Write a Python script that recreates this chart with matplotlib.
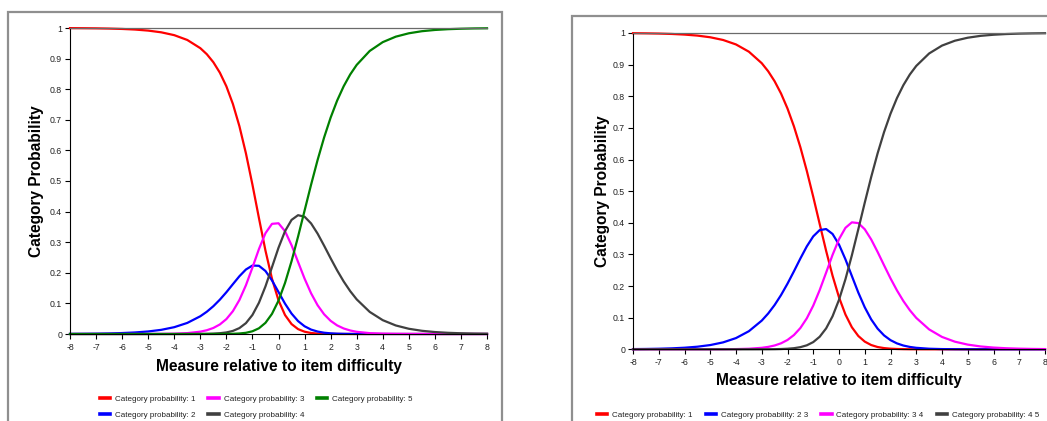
import matplotlib
matplotlib.use('Agg')
import matplotlib.pyplot as plt
from matplotlib.patches import Rectangle
from matplotlib.lines import Line2D

plt.rcParams['font.family'] = ['Liberation Sans', 'DejaVu Sans']

# ---------------- data ----------------
theta = [-8, -7.5, -7, -6.5, -6, -5.5, -5, -4.5, -4, -3.5, -3, -2.75, -2.5, -2.25,
         -2, -1.75, -1.5, -1.25, -1, -0.75, -0.5, -0.25, 0, 0.25, 0.5, 0.75, 1,
         1.25, 1.5, 1.75, 2, 2.25, 2.5, 2.75, 3, 3.5, 4, 4.5, 5, 5.5, 6, 6.5, 7,
         7.5, 8]

# left chart: five categories
left_cat1 = [0.9996, 0.9993, 0.9989, 0.9981, 0.9969, 0.9949, 0.9915, 0.9859, 0.9766,
             0.9609, 0.9341, 0.9143, 0.8882, 0.8540, 0.8094, 0.7518, 0.6791, 0.5904,
             0.4881, 0.3786, 0.2725, 0.1806, 0.1101, 0.0620, 0.0325, 0.0160, 0.0075,
             0.0033, 0.0014, 0.0006, 0.0002, 0.0001, 0.0, 0.0, 0.0, 0.0, 0.0, 0.0,
             0.0, 0.0, 0.0, 0.0, 0.0, 0.0, 0.0]
left_cat2 = [0.0004, 0.0007, 0.0011, 0.0019, 0.0031, 0.0051, 0.0083, 0.0136, 0.0223,
             0.0362, 0.0580, 0.0728, 0.0908, 0.1122, 0.1365, 0.1628, 0.1888, 0.2108,
             0.2237, 0.2229, 0.2059, 0.1752, 0.1372, 0.0992, 0.0668, 0.0422, 0.0253,
             0.0144, 0.0080, 0.0042, 0.0022, 0.0011, 0.0006, 0.0003, 0.0001, 0.0, 0.0,
             0.0, 0.0, 0.0, 0.0, 0.0, 0.0, 0.0, 0.0]
left_cat3 = [0.0, 0.0, 0.0, 0.0, 0.0, 0.0001, 0.0001, 0.0004, 0.0011, 0.0029, 0.0076,
             0.0123, 0.0197, 0.0312, 0.0487, 0.0746, 0.1111, 0.1593, 0.2171, 0.2777,
             0.3295, 0.3600, 0.3619, 0.3360, 0.2903, 0.2356, 0.1811, 0.1330, 0.0940,
             0.0644, 0.0430, 0.0281, 0.0181, 0.0115, 0.0072, 0.0028, 0.0011, 0.0004,
             0.0001, 0.0001, 0.0, 0.0, 0.0, 0.0, 0.0]
left_cat4 = [0.0, 0.0, 0.0, 0.0, 0.0, 0.0, 0.0, 0.0, 0.0, 0.0001, 0.0003, 0.0006,
             0.0013, 0.0026, 0.0051, 0.0101, 0.0193, 0.0355, 0.0622, 0.1022, 0.1556,
             0.2184, 0.2818, 0.3360, 0.3728, 0.3883, 0.3833, 0.3614, 0.3281, 0.2886,
             0.2475, 0.2079, 0.1718, 0.1402, 0.1132, 0.0722, 0.0452, 0.0279, 0.0171,
             0.0105, 0.0064, 0.0039, 0.0024, 0.0014, 0.0009]
left_cat5 = [0.0, 0.0, 0.0, 0.0, 0.0, 0.0, 0.0, 0.0, 0.0, 0.0, 0.0, 0.0, 0.0, 0.0001,
             0.0003, 0.0007, 0.0017, 0.0039, 0.0089, 0.0187, 0.0365, 0.0658, 0.1090,
             0.1668, 0.2377, 0.3180, 0.4030, 0.4879, 0.5686, 0.6422, 0.7071, 0.7628,
             0.8095, 0.8480, 0.8794, 0.9250, 0.9538, 0.9717, 0.9827, 0.9895, 0.9936,
             0.9961, 0.9976, 0.9986, 0.9991]

# right chart: four categories
right_cat1 = [0.9993, 0.9989, 0.9982, 0.9970, 0.9950, 0.9918, 0.9865, 0.9779, 0.9638,
              0.9409, 0.9045, 0.8790, 0.8474, 0.8085, 0.7612, 0.7048, 0.6389, 0.5640,
              0.4820, 0.3962, 0.3113, 0.2325, 0.1644, 0.1100, 0.0697, 0.0421, 0.0243,
              0.0135, 0.0072, 0.0038, 0.0019, 0.0010, 0.0005, 0.0002, 0.0001, 0.0, 0.0,
              0.0, 0.0, 0.0, 0.0, 0.0, 0.0, 0.0, 0.0]
right_cat2 = [0.0007, 0.0011, 0.0018, 0.0030, 0.0050, 0.0082, 0.0134, 0.0219, 0.0355,
              0.0572, 0.0907, 0.1132, 0.1401, 0.1716, 0.2075, 0.2466, 0.2871, 0.3254,
              0.3571, 0.3769, 0.3802, 0.3646, 0.3311, 0.2845, 0.2316, 0.1793, 0.1328,
              0.0946, 0.0653, 0.0439, 0.0289, 0.0187, 0.0119, 0.0075, 0.0047, 0.0018,
              0.0007, 0.0003, 0.0001, 0.0, 0.0, 0.0, 0.0, 0.0, 0.0]
right_cat3 = [0.0, 0.0, 0.0, 0.0, 0.0, 0.0, 0.0001, 0.0003, 0.0007, 0.0018, 0.0047,
              0.0076, 0.0121, 0.0190, 0.0295, 0.0451, 0.0673, 0.0980, 0.1381, 0.1872,
              0.2424, 0.2985, 0.3481, 0.3840, 0.4014, 0.3990, 0.3795, 0.3473, 0.3077,
              0.2656, 0.2243, 0.1863, 0.1526, 0.1236, 0.0993, 0.0629, 0.0391, 0.0241,
              0.0148, 0.0090, 0.0055, 0.0033, 0.0020, 0.0012, 0.0007]
right_cat4 = [0.0, 0.0, 0.0, 0.0, 0.0, 0.0, 0.0, 0.0, 0.0, 0.0, 0.0001, 0.0002, 0.0004,
              0.0009, 0.0018, 0.0035, 0.0068, 0.0126, 0.0228, 0.0397, 0.0661, 0.1045,
              0.1564, 0.2215, 0.2973, 0.3796, 0.4635, 0.5446, 0.6197, 0.6867, 0.7448,
              0.7941, 0.8351, 0.8687, 0.8959, 0.9353, 0.9602, 0.9756, 0.9851, 0.9910,
              0.9945, 0.9967, 0.9980, 0.9988, 0.9993]

left_labels = ['Category probability: 1', 'Category probability: 2',
               'Category probability: 3', 'Category probability: 4',
               'Category probability: 5']
right_labels = ['Category probability: 1', 'Category probability: 2 3',
                'Category probability: 3 4', 'Category probability: 4 5']

xticks = list(range(-8, 9))
xtick_labels = [str(v) for v in xticks]
yticks = [0, 0.1, 0.2, 0.3, 0.4, 0.5, 0.6, 0.7, 0.8, 0.9, 1]
ytick_labels = ['0', '0.1', '0.2', '0.3', '0.4', '0.5', '0.6', '0.7', '0.8', '0.9', '1']

x_title = 'Measure relative to item difficulty'
y_title = 'Category Probability'

# ---------------- styling ----------------
RED, BLUE, MAG, GRN, GRY = '#ff0000', '#0000ff', '#ff00ff', '#008000', '#404040'
W, H = 1047, 421

fig = plt.figure(figsize=(W / 100, H / 100), dpi=100)
fig.patch.set_facecolor('white')

# panel borders
fig.add_artist(Rectangle((8 / W, 1 - 460 / H), (502 - 8) / W, (460 - 12) / H,
                         transform=fig.transFigure, fill=False,
                         edgecolor='#8f8f8f', lw=1.6))
fig.add_artist(Rectangle((572 / W, 1 - 460 / H), (1120 - 572) / W, (460 - 16) / H,
                         transform=fig.transFigure, fill=False,
                         edgecolor='#8f8f8f', lw=1.6))


def style_axes(ax):
    ax.set_xlim(-8, 8)
    ax.set_ylim(0, 1)
    ax.spines['right'].set_visible(False)
    ax.spines['top'].set_color('#6a6a6a')
    ax.spines['top'].set_linewidth(0.9)
    ax.spines['left'].set_color('#000000')
    ax.spines['bottom'].set_color('#000000')
    ax.spines['left'].set_linewidth(0.8)
    ax.spines['bottom'].set_linewidth(0.8)
    ax.set_xticks(xticks)
    ax.set_xticklabels(xtick_labels)
    ax.set_yticks(yticks)
    ax.set_yticklabels(ytick_labels)
    ax.tick_params(axis='both', direction='out', length=3.6, width=0.8,
                   labelsize=6.3, labelcolor='#222222', color='#000000')
    ax.tick_params(axis='y', pad=2)
    ax.tick_params(axis='x', pad=3)
    ax.set_facecolor('white')


axL = fig.add_axes([70 / W, 1 - 334 / H, 417 / W, 306 / H])
style_axes(axL)
left_series = [left_cat1, left_cat2, left_cat3, left_cat4, left_cat5]
left_colors = [RED, BLUE, MAG, GRY, GRN]
for s, c in zip(left_series, left_colors):
    axL.plot(theta, s, color=c, lw=1.6, clip_on=False, solid_joinstyle='round')

axR = fig.add_axes([633 / W, 1 - 349.3 / H, 412 / W, 316.3 / H])
style_axes(axR)
right_series = [right_cat1, right_cat2, right_cat3, right_cat4]
right_colors = [RED, BLUE, MAG, GRY]
for s, c in zip(right_series, right_colors):
    axR.plot(theta, s, color=c, lw=1.6, clip_on=False, solid_joinstyle='round')

# axis titles
fig.text(278.5 / W, 1 - 367 / H, x_title, ha='center', va='center',
         fontsize=11.2, fontweight='bold', color='#000000')
fig.text(37 / W, 1 - 181 / H, y_title, ha='center', va='center', rotation=90,
         fontsize=11.2, fontweight='bold', color='#000000')
fig.text(839 / W, 1 - 381 / H, x_title, ha='center', va='center',
         fontsize=11.2, fontweight='bold', color='#000000')
fig.text(602 / W, 1 - 191 / H, y_title, ha='center', va='center', rotation=90,
         fontsize=11.2, fontweight='bold', color='#000000')

# legends
hL = [Line2D([], [], color=c, lw=2.6) for c in left_colors]
fig.legend(hL, left_labels, loc='upper left', bbox_to_anchor=(100 / W, 1 - 395.5 / H),
           ncol=3, frameon=False, fontsize=5.8, handlelength=1.3, handletextpad=0.6,
           columnspacing=1.55, borderpad=0, borderaxespad=0, labelspacing=1.0,
           labelcolor='#222222')
hR = [Line2D([], [], color=c, lw=2.6) for c in right_colors]
fig.legend(hR, right_labels, loc='upper left', bbox_to_anchor=(597 / W, 1 - 411.5 / H),
           ncol=4, frameon=False, fontsize=5.8, handlelength=1.3, handletextpad=0.6,
           columnspacing=1.6, borderpad=0, borderaxespad=0, labelcolor='#222222')

fig.savefig('out.png', dpi=100, facecolor='white')
